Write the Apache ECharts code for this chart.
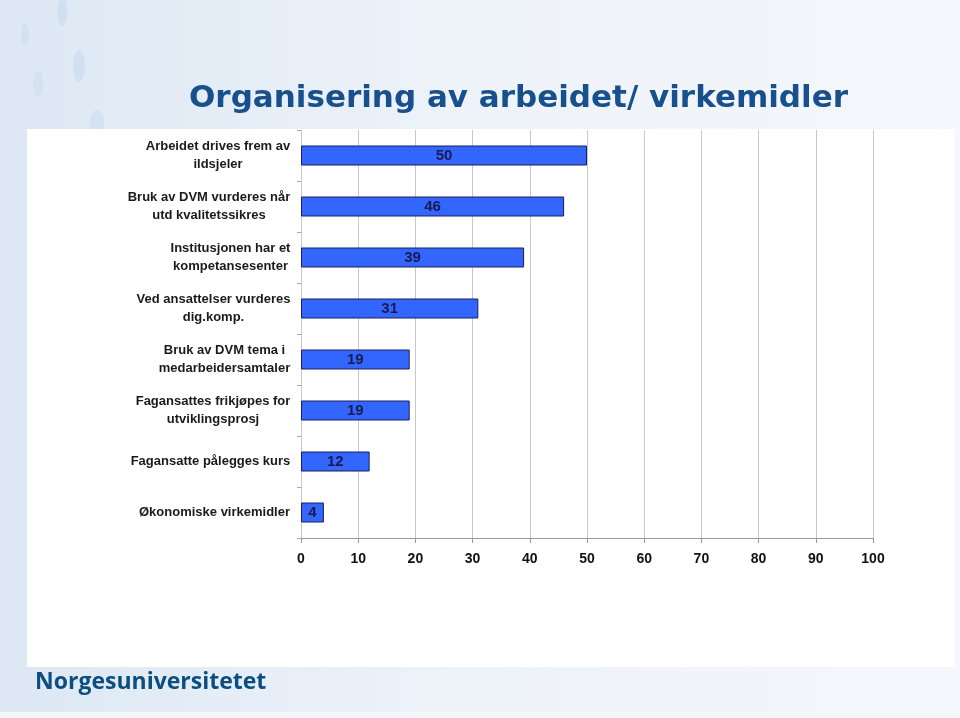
<!DOCTYPE html>
<html>
<head>
<meta charset="utf-8">
<script src="https://cdn.jsdelivr.net/npm/echarts@6/dist/echarts.min.js"></script>
<style>
html,body{margin:0;padding:0;background:#eef3f9;}
#chart{width:960px;height:718px;}
</style>
</head>
<body>
<div id="chart"></div>
<script>
const titleText = 'Organisering av arbeidet/ virkemidler';
const categories = [
  'Arbeidet drives frem av\nildsjeler',
  'Bruk av DVM vurderes når\nutd kvalitetssikres',
  'Institusjonen har et\nkompetansesenter',
  'Ved ansattelser vurderes\ndig.komp.',
  'Bruk av DVM tema i\nmedarbeidersamtaler',
  'Fagansattes frikjøpes for\nutviklingsprosj',
  'Fagansatte pålegges kurs',
  'Økonomiske virkemidler'
];
const values = [50, 46, 39, 31, 19, 19, 12, 4];
const xTicks = [0, 10, 20, 30, 40, 50, 60, 70, 80, 90, 100];
const logoText = 'Norgesuniversitetet';

const labelFont = 'bold 13px "Liberation Sans", Arial, sans-serif';
const mc = document.createElement('canvas').getContext('2d');
mc.font = labelFont;
const rich = {};
categories.forEach((c, i) => {
  const w = Math.max(...c.split('\n').map(l => mc.measureText(l).width));
  rich['l' + i] = {
    width: Math.ceil(w) + 1, align: 'center', fontSize: 13, fontWeight: 'bold',
    fontFamily: '"Liberation Sans", Arial, sans-serif', color: '#1a1a1a', lineHeight: 18
  };
});

const chart = echarts.init(document.getElementById('chart'));
const option = {
  backgroundColor: 'transparent',
  animation: false,
  title: {
    text: titleText,
    left: 184, top: 78,
    textStyle: { fontFamily: '"DejaVu Sans", sans-serif', fontWeight: 'bold', fontSize: 31, color: '#17508c' }
  },
  graphic: [
    { type: 'rect', z: -100, shape: { x: 0, y: 0, width: 960, height: 718 },
      style: { fill: new echarts.graphic.LinearGradient(0, 0, 1, 0, [{ offset: 0, color: '#dde8f4' }, { offset: 0.5, color: '#eef3f9' }, { offset: 1, color: '#f4f7fb' }]) } },
    { type: 'ellipse', z: -99, shape: { cx: 62, cy: 12, rx: 5, ry: 14 }, style: { fill: 'rgba(200,218,238,0.6)' } },
    { type: 'ellipse', z: -99, shape: { cx: 25, cy: 34, rx: 4, ry: 11 }, style: { fill: 'rgba(200,218,238,0.5)' } },
    { type: 'ellipse', z: -99, shape: { cx: 79, cy: 66, rx: 6, ry: 16 }, style: { fill: 'rgba(200,218,238,0.6)' } },
    { type: 'ellipse', z: -99, shape: { cx: 38, cy: 84, rx: 5, ry: 13 }, style: { fill: 'rgba(200,218,238,0.5)' } },
    { type: 'ellipse', z: -99, shape: { cx: 97, cy: 122, rx: 7, ry: 12 }, style: { fill: 'rgba(200,218,238,0.5)' } },
    { type: 'rect', z: -98, shape: { x: 27, y: 129, width: 928, height: 538 }, style: { fill: '#ffffff' } },
    { type: 'rect', z: -98, shape: { x: 0, y: 712, width: 960, height: 6 }, style: { fill: '#f4f6f9' } },
    { type: 'text', z: -97, left: 35, top: 671,
      style: { text: logoText, font: 'bold 23px "Open Sans", sans-serif', fill: '#0d4e80' } }
  ],
  grid: { left: 301, right: 87, top: 130, bottom: 180, containLabel: false },
  xAxis: {
    type: 'value', min: 0, max: 100, interval: 10,
    axisLine: { show: true, lineStyle: { color: '#9a9a9a', width: 1 } },
    axisTick: { show: true, length: 5, lineStyle: { color: '#9a9a9a' } },
    splitLine: { show: true, lineStyle: { color: '#c8c8c8', width: 1 } },
    axisLabel: {
      margin: 14, fontSize: 14, fontWeight: 'bold', color: '#111',
      fontFamily: '"Liberation Sans", Arial, sans-serif',
      formatter: v => xTicks.includes(v) ? String(v) : ''
    }
  },
  yAxis: {
    type: 'category', data: categories, inverse: true,
    axisLine: { show: false },
    axisTick: { show: true, length: 4, lineStyle: { color: '#aaaaaa' } },
    axisLabel: {
      margin: 10, align: 'right',
      formatter: (v, i) => v.split('\n').map(l => '{l' + i + '|' + l + '}').join('\n'),
      rich: rich
    }
  },
  series: [{
    type: 'bar', data: values, barWidth: 20,
    itemStyle: { color: '#3366ff', borderColor: '#1c1c5c', borderWidth: 1 },
    label: {
      show: true, position: 'inside', fontSize: 15, fontWeight: 'bold', color: '#1a1a4d',
      fontFamily: '"Liberation Sans", Arial, sans-serif'
    }
  }]
};
chart.setOption(option);
</script>
</body>
</html>
